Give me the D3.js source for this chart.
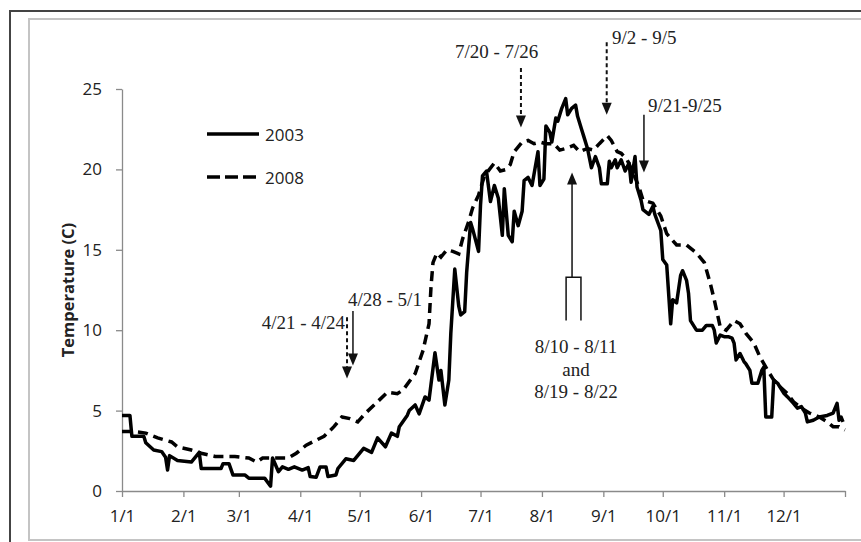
<!DOCTYPE html>
<meta charset="utf-8">
<head>
  <title>Temperature 2003 vs 2008</title>
</head>

<style>
body {
  margin: 0;
  background: #fff;
}
.tick text {
  font-family: "Open Sans", sans-serif;
  font-size: 17px;
  fill: #222;
}
.note {
  font-family: "Liberation Serif", "Times New Roman", serif;
  font-size: 19px;
  fill: #222;
}
</style>

<body>
  <svg width="861" height="542"></svg>

  <script src="https://cdnjs.cloudflare.com/ajax/libs/d3/7.8.5/d3.min.js"></script>

  <script>
// day of year (1/1 = 0) and daily temperature
var days2003 = [0, 4, 5, 11, 12, 16, 20, 22, 23, 24, 28, 35, 39, 40, 50, 51, 54, 56, 62, 64,
  72, 75, 76, 79, 81, 84, 87, 91, 94, 95, 98, 100, 103, 104, 108, 109, 113, 117, 122, 126,
  129, 133, 136, 139, 140, 144, 145, 148, 150, 153, 155, 158, 160, 161, 163, 165, 166, 168, 170, 171,
  173, 174, 176, 177, 180, 181, 182, 184, 186, 188, 190, 192, 193, 195, 197, 198, 200, 202, 203, 205,
  207, 208, 210, 211, 213, 214, 216, 217, 219, 220, 222, 224, 225, 227, 229, 230, 232, 233, 235, 236,
  237, 239, 241, 242, 245, 246, 247, 249, 250, 252, 254, 256, 257, 259, 260, 262, 263, 266, 268, 269,
  272, 273, 275, 277, 278, 280, 282, 283, 285, 286, 287, 290, 293, 295, 298, 299, 300, 302, 304, 306,
  308, 309, 310, 312, 314, 315, 317, 318, 321, 323, 324, 325, 328, 329, 331, 334, 336, 339, 341, 343,
  345, 346, 349, 352, 356, 359, 361, 362, 363, 364];
var temps2003 = [4.7, 4.7, 3.4, 3.4, 3.0, 2.55, 2.45, 2.1, 1.3, 2.2, 1.9, 1.8, 2.4, 1.4, 1.4, 1.7, 1.7, 1.0, 1.0, 0.8,
  0.8, 0.3, 2.05, 1.2, 1.5, 1.35, 1.5, 1.3, 1.45, 0.9, 0.85, 1.5, 1.5, 0.9, 1.0, 1.4, 2.0, 1.9, 2.65, 2.4,
  3.3, 2.75, 3.6, 3.4, 4.0, 4.7, 5.0, 5.35, 4.8, 5.85, 5.65, 8.6, 6.9, 7.5, 5.35, 6.9, 9.8, 13.8, 11.5, 10.95,
  11.15, 13.6, 16.7, 16.3, 14.9, 17.8, 19.6, 19.9, 18.0, 19.0, 18.2, 15.9, 18.8, 15.9, 15.5, 17.4, 16.5, 17.4, 19.3, 19.5,
  19.0, 19.7, 21.1, 19.0, 19.4, 22.7, 22.3, 21.7, 23.2, 23.0, 23.8, 24.4, 23.4, 23.8, 24.0, 23.3, 22.5, 22.1, 21.3, 20.7,
  20.1, 20.8, 20.1, 19.1, 19.1, 20.5, 20.1, 20.6, 20.1, 20.6, 19.9, 20.4, 19.2, 20.8, 18.9, 18.1, 17.5, 17.2, 17.7, 17.2,
  16.2, 14.4, 14.05, 10.4, 11.9, 11.7, 13.4, 13.7, 13.1, 12.3, 10.6, 10.0, 10.0, 10.3, 10.3, 10.0, 9.2, 9.7, 9.6, 9.6,
  9.5, 9.2, 8.15, 8.55, 8.05, 7.9, 7.5, 6.7, 6.7, 7.5, 7.7, 4.6, 4.6, 6.9, 6.7, 6.1, 5.85, 5.45, 5.15, 5.25,
  4.85, 4.3, 4.4, 4.6, 4.7, 4.85, 5.45, 4.4, 4.6, 4.3];

var days2008 = [0, 6, 12, 18, 25, 28, 35, 40, 47, 57, 64, 68, 71, 78, 84, 88, 93, 97, 102, 107,
  111, 115, 119, 123, 129, 134, 139, 142, 148, 152, 155, 156, 157, 159, 161, 164, 167, 170, 172, 175,
  177, 180, 183, 188, 191, 194, 196, 198, 202, 205, 208, 211, 214, 218, 221, 224, 228, 231, 235, 238,
  241, 245, 247, 250, 252, 255, 258, 261, 263, 268, 272, 275, 280, 285, 290, 294, 297, 299, 302, 305,
  309, 312, 315, 319, 322, 326, 329, 332, 336, 339, 343, 347, 352, 356, 359, 362, 365];
var temps2008 = [3.7, 3.7, 3.6, 3.3, 3.05, 2.75, 2.55, 2.35, 2.15, 2.15, 2.05, 1.8, 2.05, 2.05, 2.05, 2.35, 2.85, 3.1, 3.4, 4.0,
  4.6, 4.5, 4.3, 4.85, 5.55, 6.15, 6.05, 6.3, 7.3, 8.75, 10.4, 12.7, 14.2, 14.8, 14.55, 15.0, 14.9, 14.75, 15.7, 16.75,
  17.6, 18.4, 19.6, 20.4, 19.9, 20.0, 20.3, 21.1, 21.7, 21.8, 21.6, 21.7, 21.6, 21.6, 21.2, 21.3, 21.5, 21.1, 21.3, 21.2,
  21.6, 22.1, 21.8, 21.1, 21.0, 20.6, 19.8, 18.9, 18.1, 17.9, 17.1, 16.0, 15.3, 15.3, 14.8, 14.2, 12.9, 11.9, 10.2, 10.0,
  10.6, 10.4, 9.8, 9.2, 8.35, 7.5, 6.9, 6.5, 6.05, 5.55, 5.15, 4.85, 4.6, 4.3, 4.0, 4.0, 3.8];

var monthDays = [0, 31, 59, 90, 120, 151, 181, 212, 243, 273, 304, 334, 365];
var monthLabels = ['1/1', '2/1', '3/1', '4/1', '5/1', '6/1', '7/1', '8/1', '9/1', '10/1', '11/1', '12/1', ''];
var tempTicks = [0, 5, 10, 15, 20, 25];
var seriesNames = ['2003', '2008'];

// arrows: x in days, from/to in degrees
var arrowDays = [201.4, 244.7, 263.5, 113.6, 116.6];
var arrowFrom = [26.3, 27.9, 23.4, 10.8, 11.2];
var arrowTo = [22.6, 23.4, 19.8, 7.0, 7.8];
var arrowDashed = [true, true, false, true, false];

var noteLabels = ['7/20 - 7/26', '9/2 - 9/5', '9/21-9/25', '4/21 - 4/24', '4/28 - 5/1'];
var noteDays = [189.1, 247.4, 265.5, 112.6, 114.1];
var noteTemps = [26.9, 27.8, 23.6, 10.1, 11.5];
var noteAnchor = ['middle', 'start', 'start', 'end', 'start'];

var svg = d3.select('svg');

// frame
svg.append('path').attr('d', 'M10,542V11H861').attr('fill', 'none').attr('stroke', '#444').attr('stroke-width', 2);
svg.append('path').attr('d', 'M861,19H29V540H861').attr('fill', 'none').attr('stroke', '#c4c4c4').attr('stroke-width', 2);

var x = d3.scaleLinear().domain([0, 365]).range([122, 845]);
var y = d3.scaleLinear().domain([0, 25]).range([491, 89]);

var xAxis = svg.append('g')
  .attr('transform', 'translate(0,' + y(0) + ')')
  .call(d3.axisBottom(x).tickValues(monthDays).tickFormat(function(d, i) { return monthLabels[i]; })
    .tickSize(6).tickSizeOuter(0).tickPadding(13));

var yAxis = svg.append('g')
  .attr('transform', 'translate(' + x(0) + ',0)')
  .call(d3.axisLeft(y).tickValues(tempTicks).tickSize(6).tickSizeOuter(0).tickPadding(14));

svg.selectAll('.domain, .tick line').attr('stroke', '#8a8a8a').attr('stroke-width', 1.3);

svg.append('text')
  .attr('transform', 'translate(67,290) rotate(-90)')
  .attr('text-anchor', 'middle')
  .attr('dominant-baseline', 'central')
  .style('font-family', '"Open Sans", sans-serif')
  .style('font-size', '16.5px')
  .style('font-weight', 'bold')
  .attr('fill', '#222')
  .text('Temperature (C)');

var line = d3.line()
  .x(function(d) { return x(d[0]); })
  .y(function(d) { return y(d[1]); });

svg.append('path')
  .datum(d3.zip(days2008, temps2008))
  .attr('d', line)
  .attr('fill', 'none')
  .attr('stroke', '#000')
  .attr('stroke-width', 3.5)
  .attr('stroke-dasharray', '10,6');

svg.append('path')
  .datum(d3.zip(days2003, temps2003))
  .attr('d', line)
  .attr('fill', 'none')
  .attr('stroke', '#000')
  .attr('stroke-width', 3.5)
  .attr('stroke-linejoin', 'round');

// legend
var legend = svg.append('g').attr('transform', 'translate(207,134)');
seriesNames.forEach(function(name, i) {
  legend.append('line')
    .attr('x1', 0).attr('x2', 52)
    .attr('y1', i * 43).attr('y2', i * 43)
    .attr('stroke', '#000')
    .attr('stroke-width', 3.5)
    .attr('stroke-dasharray', i ? '13,5' : null);
  legend.append('text')
    .attr('x', 58).attr('y', i * 43)
    .attr('dominant-baseline', 'central')
    .style('font-family', '"Open Sans", sans-serif')
    .style('font-size', '17px')
    .attr('fill', '#222')
    .text(name);
});

// arrows
function arrowHead(px, py, up) {
  var s = up ? -1 : 1;
  return 'M' + px + ',' + py + 'L' + (px - 5) + ',' + (py - s * 12) + 'L' + (px + 5) + ',' + (py - s * 12) + 'Z';
}

arrowDays.forEach(function(d, i) {
  var px = x(d);
  svg.append('line')
    .attr('x1', px).attr('x2', px)
    .attr('y1', y(arrowFrom[i])).attr('y2', y(arrowTo[i]) - 10)
    .attr('stroke', '#111')
    .attr('stroke-width', arrowDashed[i] ? 2 : 1.5)
    .attr('stroke-dasharray', arrowDashed[i] ? '4,3' : null);
  svg.append('path').attr('d', arrowHead(px, y(arrowTo[i]), false)).attr('fill', '#111');
});

// upward arrow with bracket for the august dates
var upX = x(227.2), legL = x(224.2), legR = x(231.7);
svg.append('path')
  .attr('d', 'M' + upX + ',' + (y(19.8) + 10) + 'V' + y(13.3) +
    'M' + legL + ',' + y(10.6) + 'V' + y(13.3) + 'H' + legR + 'V' + y(10.6))
  .attr('fill', 'none')
  .attr('stroke', '#111')
  .attr('stroke-width', 1.5);
svg.append('path').attr('d', arrowHead(upX, y(19.8), true)).attr('fill', '#111');

noteLabels.forEach(function(t, i) {
  svg.append('text')
    .attr('class', 'note')
    .attr('x', x(noteDays[i]))
    .attr('y', y(noteTemps[i]))
    .attr('text-anchor', noteAnchor[i])
    .text(t);
});

['8/10 - 8/11', 'and', '8/19 - 8/22'].forEach(function(t, i) {
  svg.append('text')
    .attr('class', 'note')
    .attr('x', x(229.2))
    .attr('y', y(8.58) + i * 22.5)
    .attr('text-anchor', 'middle')
    .text(t);
});
  </script>
</body>
</html>
